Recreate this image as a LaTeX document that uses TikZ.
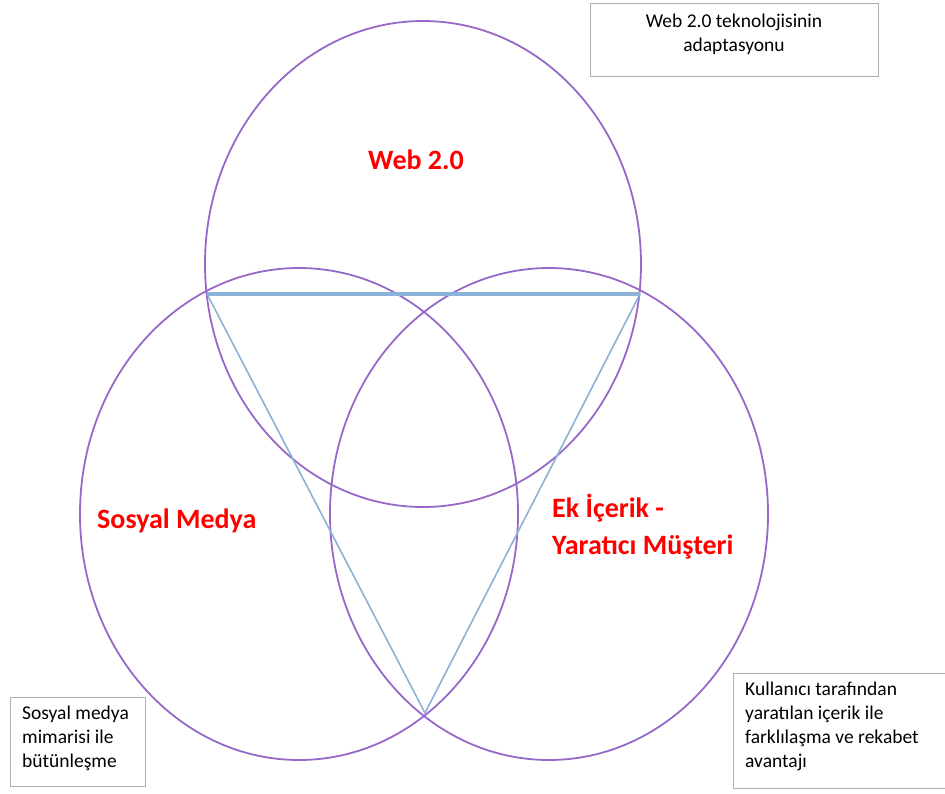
\documentclass[tikz,border=0pt]{standalone}
\usepackage{fontspec}
\setmainfont{Carlito}
\begin{document}
\begin{tikzpicture}[x=1pt,y=-1pt,
  ring/.style={draw={rgb,255:red,150;green,105;blue,200},line width=1.8pt},
  tri/.style={draw={rgb,255:red,140;green,178;blue,215},line width=1.6pt},
  setlabel/.style={text=red,font=\bfseries\fontsize{28}{34}\selectfont,inner sep=0pt},
  notebox/.style={draw={rgb,255:red,175;green,175;blue,175},line width=0.8pt,inner sep=0pt},
  notetext/.style={font=\fontsize{19.5}{24}\selectfont,inner sep=0pt}]
\useasboundingbox (0,0) rectangle (945,793);
% three overlapping sets
\draw[ring] (423,264) ellipse [x radius=218, y radius=243];
\draw[ring] (299,514) ellipse [x radius=219, y radius=246];
\draw[ring] (549,514) ellipse [x radius=219, y radius=246];
% triangle through the intersections
\coordinate (tl) at (207,294);
\coordinate (tr) at (640,294);
\coordinate (bt) at (425,713);
\draw[tri,line width=3.2pt] (tl) -- (tr);
\draw[tri] (tl) -- (bt) -- (tr);
% set labels
\node[setlabel] (web) at (416,160) {Web 2.0};
\node[setlabel,anchor=west] (sm) at (97,521) {Sosyal Medya};
\node[setlabel,anchor=west,align=left,font=\bfseries\fontsize{28}{37}\selectfont] (ek) at (552,527) {Ek İçerik -\\Yaratıcı Müşteri};
% note boxes
\node[notebox,minimum width=288,minimum height=73,anchor=north west] (b1) at (590,3) {};
\node[notetext,align=center] (t1) at (734,34) {Web 2.0 teknolojisinin\\adaptasyonu};
\node[notebox,minimum width=135,minimum height=89,anchor=north west] (b2) at (10,697) {};
\node[notetext,align=left,anchor=north west] (t2) at (22,706) {Sosyal medya\\mimarisi ile\\bütünleşme};
\node[notebox,minimum width=215,minimum height=115,anchor=north west] (b3) at (733,673) {};
\node[notetext,align=left,anchor=north west] (t3) at (745,682) {Kullanıcı tarafından\\yaratılan içerik ile\\farklılaşma ve rekabet\\avantajı};
\end{tikzpicture}
\end{document}
